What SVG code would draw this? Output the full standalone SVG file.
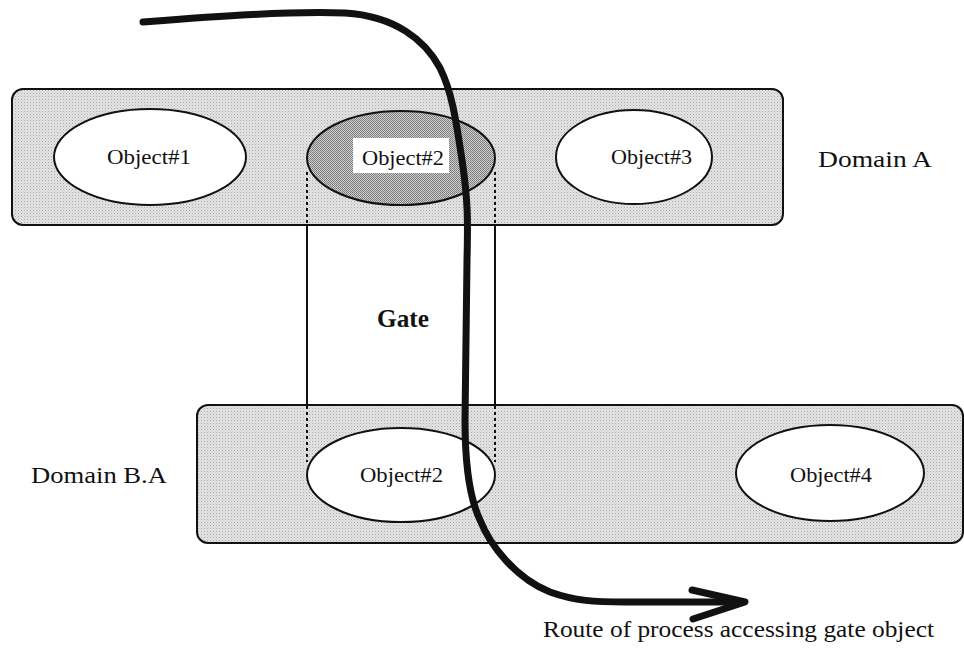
<svg xmlns="http://www.w3.org/2000/svg" width="964" height="653" viewBox="0 0 964 653">
  <defs>
    <!-- light stipple used for domain areas -->
    <pattern id="stipple-light" width="3" height="3" patternUnits="userSpaceOnUse">
      <rect width="3" height="3" fill="#e4e4e4"/>
      <rect x="0" y="0" width="1" height="1" fill="#a8a8a8"/>
      <rect x="1.5" y="1.5" width="1" height="1" fill="#c0c0c0"/>
    </pattern>
    <!-- darker stipple for the shared gate object -->
    <pattern id="stipple-dark" width="2" height="2" patternUnits="userSpaceOnUse">
      <rect width="2" height="2" fill="#d0d0d0"/>
      <rect x="0" y="0" width="1" height="1" fill="#767676"/>
      <rect x="1" y="1" width="1" height="1" fill="#828282"/>
    </pattern>
  </defs>
  <style>
    .domain { fill: url(#stipple-light); stroke: #111; stroke-width: 2; }
    .obj { fill: #fff; stroke: #111; stroke-width: 2; }
    .obj-gate { fill: url(#stipple-dark); stroke: #111; stroke-width: 2; }
    .gate-edge { stroke: #111; stroke-width: 2; fill: none; }
    .gate-dash { stroke: #111; stroke-width: 2; fill: none; stroke-dasharray: 3 3; }
    .lbl { font-family: "Liberation Serif", "Times New Roman", serif; fill: #111; }
    .obj-lbl { font-size: 21px; }
    .dom-lbl { font-size: 23px; }
    .route { fill: none; stroke: #111; stroke-width: 7; stroke-linecap: round; stroke-linejoin: round; }
  </style>

  <rect width="964" height="653" fill="#fff"/>

  <!-- Domain A -->
  <g id="domain-a">
    <rect class="domain" x="12" y="89" width="771" height="136" rx="11"/>
    <text class="lbl dom-lbl" x="818" y="167" textLength="114" lengthAdjust="spacingAndGlyphs">Domain A</text>
  </g>

  <!-- Domain B.A -->
  <g id="domain-ba">
    <rect class="domain" x="197" y="405" width="766" height="138" rx="11"/>
    <text class="lbl dom-lbl" x="31" y="483" textLength="136" lengthAdjust="spacingAndGlyphs">Domain B.A</text>
  </g>

  <!-- Gate between the two domains -->
  <g id="gate">
    <line class="gate-edge" x1="307" y1="225" x2="307" y2="405"/>
    <line class="gate-edge" x1="495" y1="225" x2="495" y2="405"/>
    <line class="gate-dash" x1="307" y1="172" x2="307" y2="225"/>
    <line class="gate-dash" x1="495" y1="172" x2="495" y2="225"/>
    <line class="gate-dash" x1="307" y1="406" x2="307" y2="462"/>
    <line class="gate-dash" x1="495" y1="406" x2="495" y2="462"/>
    <text class="lbl" x="377" y="327" font-size="25" font-weight="bold" textLength="52" lengthAdjust="spacingAndGlyphs">Gate</text>
  </g>

  <!-- Objects in Domain A -->
  <g id="object1">
    <ellipse class="obj" cx="150" cy="157" rx="96" ry="48"/>
    <text class="lbl obj-lbl" x="107" y="164" textLength="84" lengthAdjust="spacingAndGlyphs">Object#1</text>
  </g>
  <g id="object2-a">
    <ellipse class="obj-gate" cx="401" cy="158" rx="94" ry="47"/>
    <rect x="353" y="138" width="96" height="35" fill="#fff"/>
    <text class="lbl obj-lbl" x="362" y="165" textLength="82" lengthAdjust="spacingAndGlyphs">Object#2</text>
  </g>
  <g id="object3">
    <ellipse class="obj" cx="634" cy="157" rx="78" ry="47"/>
    <text class="lbl obj-lbl" x="611" y="164" textLength="81" lengthAdjust="spacingAndGlyphs">Object#3</text>
  </g>

  <!-- Objects in Domain B.A -->
  <g id="object2-ba">
    <ellipse class="obj" cx="401" cy="475" rx="94" ry="47"/>
    <text class="lbl obj-lbl" x="360" y="482" textLength="83" lengthAdjust="spacingAndGlyphs">Object#2</text>
  </g>
  <g id="object4">
    <ellipse class="obj" cx="830" cy="473" rx="94" ry="48"/>
    <text class="lbl obj-lbl" x="790" y="482" textLength="82" lengthAdjust="spacingAndGlyphs">Object#4</text>
  </g>

  <!-- Process route through the gate -->
  <g id="connectors">
    <path class="route" d="M143,22 C220,16 290,11 345,13 C395,16 425,40 440,68 C452,92 456,120 462,160 C468,200 468,220 467,260 L465,420 C465,455 468,495 480,520 C490,545 515,578 550,592 C575,601 595,602 625,602 L738,602"/>
    <polyline class="route" stroke-width="8" points="692,590 745,602 693,619"/>
    <text class="lbl" x="543" y="637" font-size="23" textLength="391" lengthAdjust="spacingAndGlyphs">Route of process accessing gate object</text>
  </g>
</svg>
